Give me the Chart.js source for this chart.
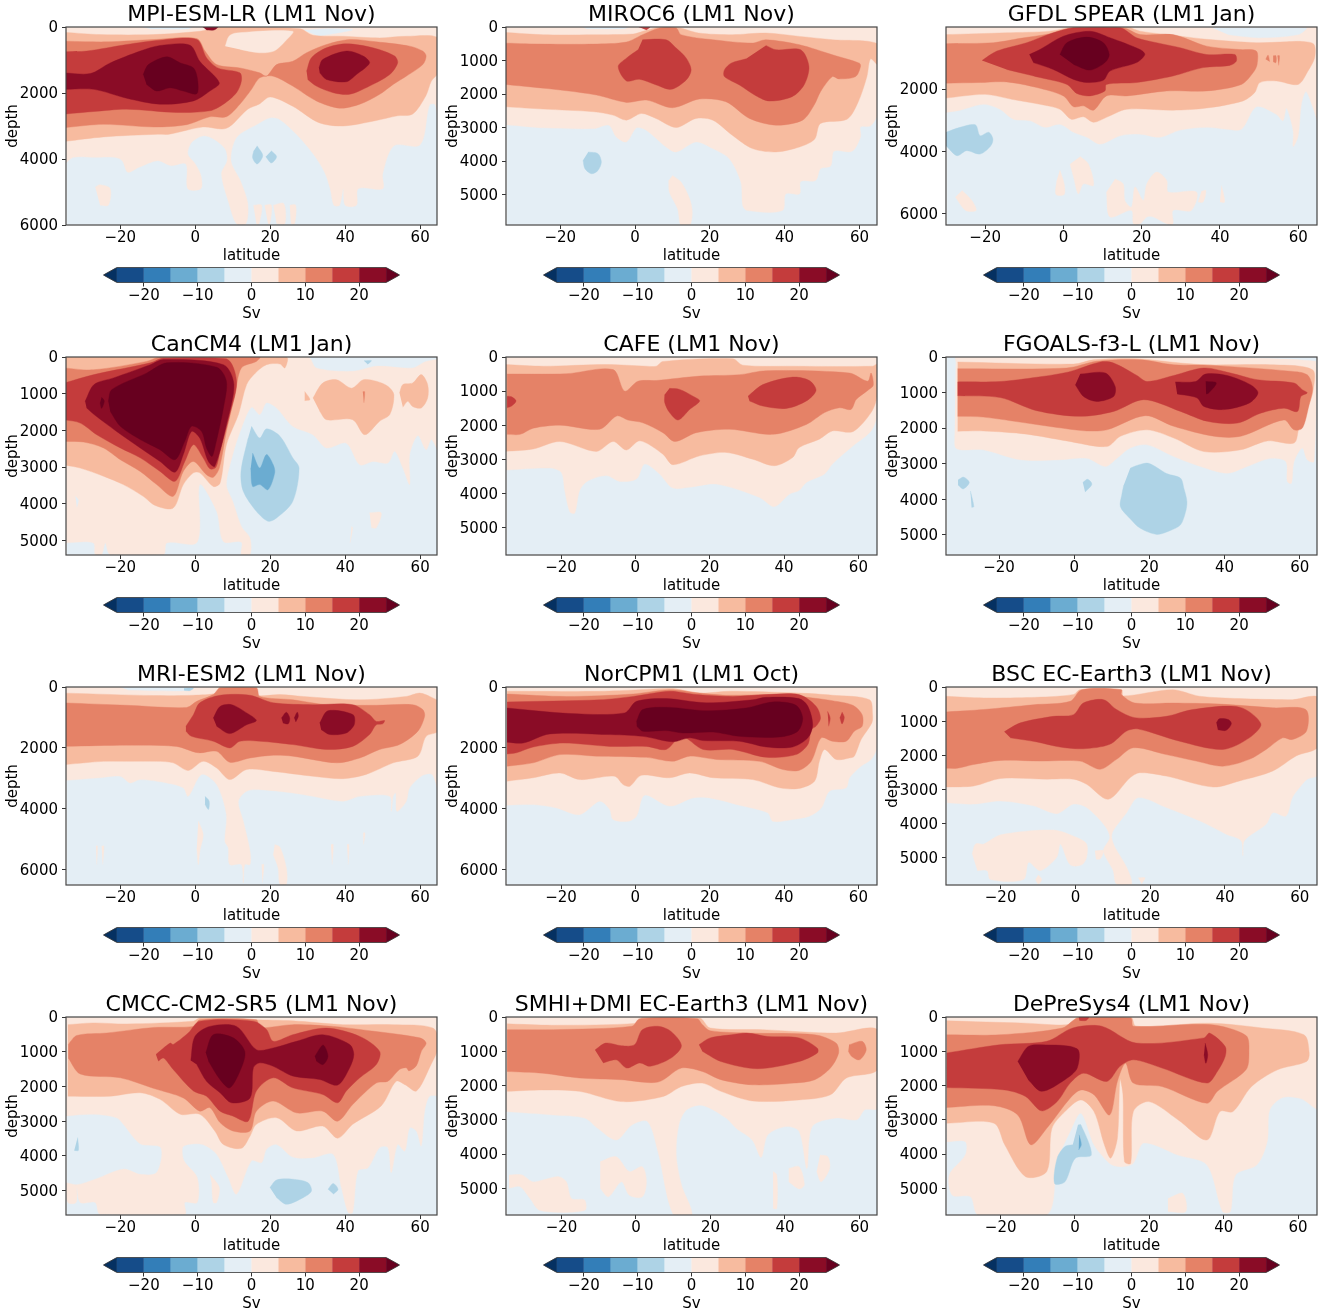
<!DOCTYPE html>
<html>
<head>
<meta charset="utf-8">
<title>Overturning streamfunction by model</title>
<script src="https://cdn.jsdelivr.net/npm/chart.js@4"></script>
<style>
  html, body { margin: 0; background: #fff; }
  #page { position: relative; width: 1325px; height: 1313px; overflow: hidden; }
  canvas { position: absolute; }
</style>
</head>
<body>
<div id="page"></div>
<script>
// contour regions: [lower bound of the Sv band, [lat, depth, lat, depth, ...]]
// painted in list order, later regions lie on top of earlier ones
const mpiBands = [
  [0, [-35,0, 65,0, 65,3000, 64,2350, 62.5,2360, 60,3570, 53,3600, 50,4450, 50,4900, 43.5,4900, 43,5400, 40,5400, 39.5,4900, 38.5,5400, 37,5400, 36,4900, 34.5,4400, 31.5,3850, 27,3250, 22.5,2800, 20,2750, 16.5,2950, 11,3350, 9.5,4050, 12,4650, 14,5350, 13.5,5960, 11,5960, 9,5350, 7,4450, 8.5,4050, 8,3700, 5,3400, 2,3300, -1,3500, -2,3850, 0,4150, 1.5,4500, 1.5,4900, -2,4900, -2.5,4150, -6.5,4200, -10,4050, -15,4250, -18,4400, -19.5,4050, -21.5,3950, -27,3950, -32.5,3950, -35,4170]],
  [0, [-26.7,4850, -25.4,4780, -22.7,4900, -23.2,5400, -25.4,5400]],
  [0, [15.5,5400, 17.7,5400, 17,5960, 16.3,5960]],
  [0, [18.5,5400, 20.3,5400, 19.9,5960, 19.4,5960]],
  [0, [20.8,5400, 23.6,5350, 23.9,5960, 21.7,5960]],
  [0, [25.2,5400, 26.8,5400, 26.5,5960, 25.5,5960]],
  [-5, [29,100, 35,50, 42,80, 37,200, 33,280]],
  [-10, [16.5,3600, 18,3900, 16.5,4150, 15.3,3970, 15.6,3750]],
  [-10, [20.3,3750, 21.7,3930, 20.3,4120, 18.8,3930]],
  [5, [-35,160, -25.4,230, -11.2,230, 1.2,130, 3,80, 6.6,0, 27.9,50, 31.4,250, 39.4,280, 49.2,330, 56.3,280, 65,350, 65,1340, 63,1640, 61.5,2090, 58,2640, 54,2690, 48,2840, 39.5,3000, 33,2900, 26,2400, 20,2120, 17,2340, 14,2490, 8.3,3070, 2,3030, -7,3250, -10,3250, -24.5,3330, -35,3470]],
  [0, [8,580, 9,280, 11,180, 26,130, 24,430, 21,730, 17,780, 12,680]],
  [10, [-35,430, -23.6,450, -11,380, 0.4,350, 2.6,730, 5.7,1140, 11.9,1240, 17.2,1390, 19,1490, 21.7,1140, 26,1040, 29.7,780, 35,530, 41.2,380, 48.3,450, 57.2,580, 60.7,730, 61.6,880, 60.7,1140, 56.3,1490, 52.8,1740, 49.2,2040, 43.9,2340, 38.5,2460, 32.3,2240, 26,1790, 20.8,1490, 17.2,1540, 15,1890, 11.9,2340, 8.3,2720, 3.9,2720, -2.3,2960, -11,3030, -24.5,2950, -35,3050]],
  [15, [-35,750, -29,730, -18.3,530, -9.4,400, 0.4,380, 3,930, 6,1240, 11.9,1390, 12.3,1640, 11,1990, 7.5,2340, 3.9,2540, -5,2590, -18.3,2490, -27,2560, -35,2640]],
  [15, [29.7,1340, 31,930, 35,630, 40.3,510, 47.4,630, 53.2,880, 54,1090, 51.9,1440, 46.5,1790, 41.2,2040, 36.8,1990, 32.3,1790, 30,1590]],
  [20, [-35,1390, -28,1410, -22.7,1090, -14.7,730, -9.4,560, -1.4,550, 1.2,1040, 6.4,1690, 3.9,1940, -0.5,2240, -9.4,2340, -18.3,2160, -27,1890, -35,1890]],
  [20, [33,1240, 34,985, 40.3,730, 44.8,880, 46.5,1090, 43,1440, 40.3,1660, 35,1590, 33.2,1390]],
  [25, [-13.9,1440, -12.5,1140, -7.6,905, -4,1090, -0.5,1240, 0.6,1590, 0.4,2020, -3.2,1940, -6.7,1840, -10.3,1940, -13,1740]],
  [20, [2,0, 6,0, 5,90, 3,90]],
  [-5, [-14,0, -1,0, -2,60, -12,60]]
];

const mirocBands = [
  [0, [-35,0, 65,0, 65,2530, 63,2950, 60.3,2980, 60.3,3280, 58,3710, 53.2,3710, 52.3,4150, 49.6,4230, 48.3,4580, 44.3,4610, 44,4980, 40.3,4980, 39.4,5480, 30,5480, 28.8,5330, 28.3,4630, 25.2,3930, 20.8,3630, 16.3,3430, 11,3730, 8.3,3580, 3,3080, 0.4,3010, -2.3,3430, -5,3280, -7,2930, -11,3030, -24.5,3010, -35,2910]],
  [0, [10,4430, 12.3,4630, 14.6,5130, 15.3,5530, 14.6,5930, 12.3,5930, 11.4,5430, 9.2,4930, 9,4580]],
  [-10, [-12.5,3730, -9.9,3780, -9,4030, -9.9,4280, -11.6,4380, -13.4,4230, -13.9,3980]],
  [5, [-35,160, -24.5,230, -11,230, -0.5,210, 2.1,130, 6.6,0, 11,0, 17,180, 26,230, 35,180, 44,280, 52.8,380, 65,510, 65,1130, 63,950, 62,1480, 59.7,2230, 56.7,2750, 49.6,2880, 48,3350, 44,3580, 37.7,3730, 31.4,3630, 26,3230, 20.8,2780, 16.3,2730, 11,3000, 5.6,2730, 1.7,2580, -2.3,2780, -5.9,2630, -11,2530, -24.5,2450, -35,2380]],
  [10, [-35,480, -24.5,510, -11,510, -2.3,450, 2,230, 6.6,30, 11,30, 12.3,230, 20.8,380, 31.4,480, 35,380, 44,530, 52.8,830, 60,1080, 60.3,1180, 59,1480, 54.5,1550, 52.8,1480, 49.6,1930, 47.9,2330, 44.8,2780, 37.7,2930, 30.6,2730, 24.3,2230, 17.2,2150, 10,2410, 3,2180, -2.3,2250, -10.3,2030, -20,1880, -35,1710]],
  [15, [2,380, 8.3,380, 11,630, 13.7,930, 15,1280, 13.7,1580, 9.7,1860, 5.7,1730, 1.2,1560, -2.3,1610, -4.5,1180, -2.3,930, 0.8,680]],
  [15, [35,550, 37.7,680, 44.3,680, 46.5,1180, 45.2,1730, 42,2080, 35.9,2210, 32.3,2050, 27.9,1730, 23.9,1480, 23.9,1280, 25.7,1080, 29.7,950]],
  [15, [1,0, 4,0, 3,90]],
  [-5, [-14,0, -2,0, -3,50, -13,50]]
];

const gfdlBands = [
  [0, [-30,0, 65,0, 65,3020, 63.8,2610, 62,2080, 60.8,2490, 60,3500, 58.7,3850, 58.7,3340, 57,2610, 56.1,3020, 54.4,2810, 49.3,2570, 45.5,3290, 41.7,3290, 36.6,3230, 29.8,3320, 24.7,3550, 19.6,3450, 14.5,3500, 9.4,3770, 6,3550, 2.6,3390, -0.9,3130, -4.7,3230, -8.5,3020, -12.8,2970, -16.2,2650, -20.4,2490, -26.4,2680, -30,2750]],
  [-5, [38,30, 62,30, 60,250, 50,350, 42,250]],
  [0, [4.3,4170, 6.4,4410, 7.7,5100, 5.1,5050, 3.8,5370, 2.6,4830, 1.7,4410]],
  [0, [-0.9,4600, 0.2,5050, 0.2,5390, -1.9,5390, -1.7,4940]],
  [0, [13.2,4890, 15.3,5050, 15.7,5580, 17.4,5790, 18.3,5150, 20.4,5580, 21.3,5050, 23.8,4670, 26.4,4940, 26.8,5310, 34,5310, 32.7,5900, 28,5900, 28,6330, 26.4,6330, 23,6110, 21.3,6110, 19.6,6330, 17.9,6330, 17.4,5900, 11.9,6110, 11,5310]],
  [0, [-25.9,5260, -23.4,5580, -22.3,5900, -25,5900, -27.6,5470]],
  [0, [35.3,5280, 36.4,5260, 35.7,5630, 34.4,5630]],
  [0, [40.4,5100, 41.2,5630, 40,5630]],
  [-10, [-30,3390, -26.4,3230, -22.5,3150, -21.3,3500, -19.1,3390, -18,3610, -18.7,3850, -21.3,4090, -24.7,3980, -27.2,4140, -30,3820]],
  [5, [-30,250, -14.5,190, -3.4,140, 2.6,0, 16.2,0, 19.6,140, 29.8,300, 36.6,400, 49.3,510, 57,480, 61,470, 64,560, 64.2,990, 62.5,1420, 60,1850, 54.4,1740, 50.2,1790, 48.9,2110, 45.9,2380, 36.6,2610, 28,2680, 16.2,2650, 11,2910, 7.7,3070, 5.1,2890, 2,2970, -0.9,2650, -6,2490, -13.2,2330, -20,2170, -30,2290]],
  [10, [-30,540, -17.9,510, -11,370, -3.4,220, 2.6,30, 15.3,30, 19.6,250, 28,250, 36.6,620, 45,730, 49.3,780, 49.5,1210, 48.5,1470, 45.5,1850, 36.6,2060, 26.4,2060, 16.2,2220, 11,2220, 7.7,2680, 5.1,2540, 2.6,2570, 0,2220, -6.8,1950, -14.5,1770, -21.3,1790, -30,1810]],
  [10, [51.7,1040, 52.3,910, 52.7,1120]],
  [10, [53.6,930, 54.3,930, 54.3,1150, 53.6,1120]],
  [10, [54.7,930, 55.2,930, 55,1240]],
  [15, [-20.8,1080, -17,780, -9.4,510, -2.6,190, 2.6,30, 14.5,30, 18.7,350, 23.8,510, 29.8,670, 36.6,890, 43.8,890, 44.2,1100, 42.5,1240, 35.7,1310, 28,1580, 18.7,1790, 11,1850, 10.6,2060, 6.8,2220, 3.4,2140, 0.9,1850, -6,1630, -14.5,1370]],
  [20, [-8.7,890, -6,730, 0,300, 6.8,140, 11.9,350, 19.6,730, 20.8,890, 18.7,1150, 11.9,1420, 10.2,1720, 6,1790, 2.6,1690, -2.6,1370, -7.7,1150]],
  [25, [-0.9,890, 0.9,510, 6,330, 10.2,510, 11.7,890, 10.6,1150, 6.8,1390, 2.6,1210]]
];

const canBands = [
  [0, [-35,0, 30,0, 32.3,300, 42,390, 48.3,250, 58,300, 61.6,120, 65,120, 65,2570, 63,2250, 61.6,2530, 59.4,2140, 57.2,2660, 57.2,3480, 55.4,3030, 53.2,2570, 51.4,2890, 47.4,2850, 43.9,2940, 40.3,2350, 35,2480, 31.4,2120, 26,1890, 21.7,1390, 19,1250, 17.2,1570, 15,1370, 12.3,1940, 10,2660, 8.3,3480, 10,3940, 12.3,4620, 14.6,4940, 14.6,5390, 12.3,5390, 12.3,5050, 7.5,5030, 5.7,4210, 1.2,3480, 0.5,5050, -7.6,5070, -8.5,5390, -22.7,5390, -24,5070, -25,5390, -26.7,5390, -27.2,5070, -35,5070]],
  [0, [46.5,4250, 49.6,4250, 48.3,4660, 47,4660]],
  [0, [41.7,4620, 42,4660, 41.3,5070]],
  [-5, [-32,3800, -31.2,3900, -31.6,4100]],
  [-10, [45,100, 47,100, 46,200]],
  [5, [-35,0, 24.3,0, 23.9,300, 22.6,190, 19,210, 16,440, 13.7,750, 11.5,1570, 8.3,2390, 6.6,3440, 4.8,3530, 1.2,3160, -0.5,3160, -3.2,3480, -5.9,4120, -10.7,4050, -13.9,3800, -19.2,3480, -24.5,3250, -30.7,3030, -35,2940]],
  [5, [29.2,940, 30.6,1160, 29.2,1190]],
  [5, [31.4,1120, 34,710, 37.7,620, 41.7,850, 44.8,620, 48.3,660, 51.4,800, 53,1030, 51.9,1570, 49.2,1750, 45.2,2120, 42,1710, 35,1710, 33.2,1480]],
  [5, [54.5,980, 55.4,750, 58,710, 60.3,480, 62,750, 62,1120, 60.3,1390, 58,1350, 56.7,1210, 55.4,1370]],
  [10, [44.7,950, 45.2,950, 45,1250]],
  [10, [-35,300, -27.2,350, -13,120, -9.4,0, 17.2,0, 16.3,120, 12.3,300, 10.6,1030, 8.3,2030, 6.4,3030, 4.8,3280, 3,3210, -0.5,2850, -3.2,3120, -5.9,3800, -10.3,3480, -14.7,3120, -20,2800, -24.5,2480, -29.8,2320, -35,2300]],
  [15, [-35,710, -27,480, -12,160, -8.5,30, 8.3,50, 11,660, 9.2,1570, 6.6,2570, 5.5,3010, 3.9,3050, 2.1,2750, -0.5,2390, -2.8,2850, -5.4,3390, -9.4,3120, -14.7,2750, -20,2480, -26.3,2120, -30.7,1800, -35,1710]],
  [20, [-29.4,1210, -27,750, -21.8,570, -12,210, -8.5,70, 7.5,210, 10.3,750, 8.3,1850, 5.2,2980, 3.5,2850, 1.2,2210, -1,2030, -3.2,2660, -5.4,3140, -9.4,2850, -14.7,2480, -21,2030, -27,1570, -29,1390]],
  [25, [-23.2,1210, -22.3,890, -13,440, -7.6,160, 5.7,280, 8.3,660, 7.5,1390, 5.2,2480, 4.4,2710, 3,2480, 1.7,2030, -1,1890, -2.8,2300, -5.4,2800, -9.4,2530, -14.7,2250, -20,1890, -22.7,1480]],
  [25, [-25,1100, -24.3,1200, -25,1400, -25.4,1250]],
  [-10, [15,1890, 17.2,2210, 19,1960, 22.6,2160, 26,2750, 27.7,3030, 26,3940, 21.7,4390, 19.4,4480, 16.3,4210, 12.8,3660, 12.2,3120, 14.1,2210]],
  [-15, [15.3,2620, 17.2,3030, 19,2660, 20.8,2940, 21.2,3160, 19.4,3620, 17.2,3480, 15.3,3530, 14.8,3030]]
];

const cafeBands = [
  [0, [-35,0, 65,0, 65,1680, 63.4,2170, 58.5,2610, 53,3140, 50.9,3430, 46,3680, 44,3920, 41.5,4020, 37.4,4390, 33.4,4120, 21.8,3730, 14.6,3820, 10,3840, 6.5,3430, 2.5,3140, 0.3,3580, -4.2,3650, -7.8,3480, -13,3650, -15,3920, -16.3,4580, -17.6,4550, -19,3920, -19.9,3390, -23,3260, -35,3320]],
  [5, [-35,220, -24.8,270, -7.8,220, 3,270, 5.6,270, 7.4,130, 26.2,50, 28.9,240, 42.3,270, 63.8,270, 65,220, 65,1150, 63.4,1630, 58.5,2190, 53,2170, 49.5,2410, 44,2660, 42.3,2950, 37.4,3190, 31.6,3000, 24.4,2800, 17.3,2900, 10.1,3160, 7.4,2850, 1.2,2460, -2.4,2730, -6,2480, -10.5,2770, -20.3,2480, -27.5,2700, -35,2770]],
  [10, [-34.5,500, -18.5,490, -6,370, -2.9,1000, 0.7,710, 5.6,690, 17.3,560, 28,520, 35.2,400, 57.6,470, 62.5,710, 63.4,470, 64,830, 62.5,980, 59.4,1250, 58,1540, 54.9,1490, 50.9,1630, 46,1980, 37,2270, 25.3,2120, 16.4,2220, 10.6,2480, 7.4,2220, 2,1930, -2,1850, -5,1730, -9.6,2120, -20.3,2000, -27.5,2090, -31,2270, -34.5,2270]],
  [15, [-34.5,1150, -33.3,1170, -32.1,1290, -33.3,1440, -34.5,1490]],
  [15, [9.2,920, 11.9,950, 15.5,1150, 17.3,1290, 14.6,1540, 11.5,1850, 9.2,1630, 7.9,1340, 7.9,1100]],
  [15, [30.3,1150, 34.3,810, 42.3,590, 46.8,690, 48.6,980, 46,1290, 40.6,1510, 34.3,1440, 30.7,1290]]
];

const fgoalsBands = [
  [0, [-31.5,120, -31.5,0, 16.7,0, 64.3,120, 63.8,2940, 62,2890, 60.7,2560, 58.5,2940, 57.8,3550, 56.7,3500, 56.3,2940, 52.3,2850, 46,3080, 40.7,3270, 33.6,3080, 26.5,2800, 19.4,2470, 14.9,2560, 11.4,2850, 8.3,3080, 3.4,2850, -3.7,2890, -14.4,2890, -24.2,2610, -31.3,2580, -31.8,2190]],
  [5, [-31,140, -0.2,200, 5.2,80, 16.7,50, 28.3,170, 35.4,220, 53.2,220, 63.4,360, 63.6,920, 62,1480, 59.8,2000, 58.5,2420, 51.4,2360, 44.3,2610, 34.5,2660, 26.5,2280, 19.4,2050, 12.3,2230, 8.7,2520, -2,2360, -12.6,2170, -24.2,2080, -31,2090]],
  [10, [-31,330, -2,310, 6,120, 17.6,80, 26.5,220, 35.4,230, 57.6,400, 62,500, 63.4,870, 62.5,1340, 60.7,2000, 58.5,2050, 55.8,1770, 44.3,2230, 37.2,2230, 26.5,1950, 18.9,1650, 8.7,2050, 3.4,2080, -2,2020, -12.6,1860, -24.2,1690, -31,1670]],
  [15, [-31,700, -19.7,690, -10,570, -1.5,420, 7,140, 10.5,170, 16.7,520, 19.4,690, 26.5,520, 34.5,310, 41.6,450, 48.7,640, 58.5,730, 60.7,920, 62,1010, 60.3,1110, 59.4,1530, 55.8,1440, 49.6,1580, 43.4,1860, 35.4,1810, 28.3,1530, 18.5,1200, 10.5,1530, 1.6,1670, -10,1510, -19.7,1140, -31,1090]],
  [20, [1.6,480, 8.3,450, 10.9,830, 10.5,1110, 6,1250, 2.5,1110, 0.3,780]],
  [20, [26.9,700, 32.3,690, 34.9,480, 40.7,520, 46.9,780, 48.9,1010, 46.5,1300, 39.8,1480, 34.5,1390, 32.7,1150, 27.4,1040]],
  [25, [35,690, 37.8,730, 35.8,1010, 35.1,1040]],
  [-10, [-30.9,3460, -29.4,3380, -27.9,3530, -29.5,3710, -30.9,3600]],
  [-10, [-27.6,3770, -26.7,4210, -27.3,4230]],
  [-10, [2.3,3530, 3.6,3440, 4.7,3580, 2.9,3800]],
  [-10, [14.9,3130, 16.7,3050, 19.8,2990, 24.6,3280, 28.3,3410, 29.2,3700, 30,4070, 29.6,4370, 28.3,4720, 25.6,4880, 22,4990, 17.6,4820, 14.9,4550, 12.3,4210, 12.7,3860, 13.2,3600]]
];

const mriBands = [
  [0, [-35,0, 65,0, 65,3420, 63.2,2870, 60.7,2900, 57.2,3310, 56.3,3750, 53.8,4080, 53.5,3480, 52.8,3590, 52.3,4080, 51.9,3590, 43.9,3590, 39.4,3750, 31.4,3590, 26,3480, 17.2,3370, 13.7,3420, 11.5,3750, 12.8,4400, 14.6,5390, 14.6,5830, 13.2,5830, 12.8,6430, 12.3,5830, 9.2,5830, 8.8,5280, 7.9,5060, 8.3,4190, 5.7,3200, 1.7,2870, -1.9,3590, -3.2,3310, -7.6,3150, -14.7,3040, -17.4,3150, -20,2930, -25.4,2980, -35,3070]],
  [0, [0.8,4400, 2.1,4840, 1.2,5390, 0.8,5830, 0.4,5280]],
  [0, [21.2,5170, 22.6,5260, 24.3,5940, 24.3,6480, 22.6,6480, 22.1,5940, 20.8,5500]],
  [0, [-26.5,5220, -26.1,5220, -26.3,5830]],
  [0, [-25,5220, -24.4,5220, -24.7,5830]],
  [0, [36.2,5170, 36.8,5170, 36.5,5830]],
  [0, [40.5,5170, 41,5170, 40.8,5830]],
  [0, [44.8,4790, 45.3,4790, 44.9,5170]],
  [0, [17.7,5830, 18.3,5830, 17.9,6430]],
  [-10, [2.6,3590, 3.7,3750, 3.5,4020, 2.6,3860]],
  [-5, [-20,0, -1,0, -2,120, -18,100]],
  [-10, [-3,40, -0.5,40, -1.5,120, -3,110]],
  [5, [-35,200, -11.2,280, -0.5,270, 5.7,200, 6.6,0, 16.3,0, 16.3,270, 22.6,250, 28.8,310, 43.9,420, 56.3,310, 59.9,200, 63.4,360, 65,500, 65,1430, 61.6,1620, 59.4,2270, 52.8,2490, 45.6,2870, 39.4,3010, 31.4,2930, 20.8,2770, 13.7,2710, 9.2,3040, 5.7,2660, 2.1,2440, -1.9,2740, -5.9,2490, -10.3,2440, -18.3,2440, -24.5,2440, -35,2550]],
  [10, [-35,520, -18.3,600, -2.3,670, 0.4,470, 4.8,250, 6.6,30, 16.3,30, 17.2,310, 26,420, 35,580, 48.3,600, 58,580, 60.7,740, 61.2,960, 59.4,1450, 54.5,1890, 49.2,2050, 43.9,2330, 37.7,2490, 26,2270, 20.8,2240, 14.6,2330, 9.2,2470, 5.7,2110, 0.8,2160, -5,1950, -18.3,1910, -35,1950]],
  [15, [-2.5,1290, -0.5,910, 1.2,520, 6.6,270, 14.6,270, 20.8,520, 31.4,580, 42,580, 46.5,910, 48.3,1130, 50.5,1100, 50,1210, 48.3,1240, 46.5,1560, 42,1950, 35,2050, 26,1890, 17.2,1780, 11.9,1780, 9.2,2000, 4.8,1780, -1,1620, -2.5,1450]],
  [20, [4.8,1020, 6.6,640, 9.7,580, 13.7,850, 16.3,1100, 13.7,1240, 9.2,1530, 5.7,1290]],
  [20, [23,1020, 24.3,830, 25.2,1020, 24.8,1210, 23.4,1180]],
  [20, [26.4,1020, 27.2,830, 27.5,960, 26.8,1150]],
  [20, [33.2,1180, 35.4,780, 42.1,910, 42.4,1240, 40.3,1510, 35.9,1560, 33.6,1400]]
];

const norBands = [
  [0, [-35,0, 65,0, 65,1950, 63.4,2380, 60.7,2600, 57.6,2980, 56.7,3310, 52.2,3420, 50,3970, 46.8,4240, 42.3,4350, 37,4410, 35.6,4130, 28,3880, 20,3640, 15.5,3640, 9.2,3910, 2.5,3550, 0.3,4240, -2,4410, -6,4350, -6.9,4020, -9.6,3750, -15,4190, -21.2,3970, -27.5,3860, -35,3880]],
  [5, [-34.5,140, -9.6,140, 1.2,90, 10,50, 17.3,200, 25.3,140, 44,200, 53,270, 63,420, 63.8,910, 63.6,1180, 60.7,1730, 58.9,2270, 57.6,2330, 54,2380, 50.9,2050, 49.5,2440, 48.2,3090, 44,3330, 38.8,3310, 31.6,3040, 20.9,2980, 14.6,2820, 9.2,2980, 1.6,2900, -1.5,3260, -3.3,3200, -5.6,2930, -15,3040, -20.3,2820, -27.5,2980, -34.5,3090]],
  [10, [-34.5,230, -18.5,310, -0.6,230, 9.2,90, 17.3,200, 24.4,270, 39.7,250, 47.7,360, 53,450, 58.5,600, 61,910, 61,1290, 58.9,1450, 56.7,1780, 53,1780, 50,1670, 47.3,2440, 44,2740, 39.7,2710, 33.4,2440, 21.8,2380, 14.6,2270, 10,2440, 3,2310, -10.5,2270, -20.3,2220, -27.5,2490, -34.5,2600]],
  [15, [-34.5,490, -9.6,420, -0.6,310, 9.2,140, 16.4,250, 26.2,310, 35.2,250, 44,250, 48.6,630, 49.8,1020, 48.6,1290, 47.3,1400, 46.4,1890, 43.2,2220, 35.2,2310, 26.2,2050, 18.2,2050, 12.4,1620, 8.3,2050, 3,1950, -6.9,1950, -19.4,1840, -27.5,1970, -32,2160, -34.5,2200]],
  [15, [51.7,800, 52.4,1020, 52,1290]],
  [15, [55.6,820, 56.2,1000, 55.6,1210, 55,1000]],
  [20, [-34.5,690, -17.6,870, -2.9,850, 0.3,470, 8.3,380, 19,520, 31.6,420, 35.2,340, 44,380, 46.4,630, 47.7,1240, 46.4,1670, 42.3,1970, 35.2,1970, 28,1780, 18.2,1760, 14.6,1670, 10,1800, 2,1620, -7.8,1560, -23,1540, -30.2,1840, -34.5,1810]],
  [25, [0.3,1130, 2,740, 9.2,670, 19,780, 29.8,690, 37,490, 43.2,600, 45,1020, 43.7,1450, 38.8,1640, 28,1620, 20.9,1480, 12.8,1510, 8.3,1430, 2,1450, 0.4,1290]]
];

const bscBands = [
  [0, [-35,0, 65,0, 65,2560, 62,2700, 59.9,2950, 58,3240, 56.3,3780, 52.8,3680, 51,4020, 45.2,4500, 44.8,4940, 44.3,4500, 40.3,4310, 33.2,3920, 24.3,3530, 16.8,3240, 13.7,3680, 10.1,4210, 9.7,4410, 10.6,4700, 13.7,5280, 15,5770, 11,5770, 10.1,5380, 7.5,4800, 9.2,4410, 7.9,4070, 3,3530, -0.5,3430, -5,3710, -11.2,3480, -20,3340, -27.2,3430, -34.3,3390]],
  [0, [-27.6,4890, -26.7,4600, -24.5,4600, -20,4330, -5.9,4190, 0.4,4410, 3,4600, 3,4990, 1.7,5210, -1.4,5210, -4,4600, -5,4990, -9.4,5380, -12.5,5140, -13.9,5640, -22.7,5640, -23.6,5380, -26.2,5380]],
  [0, [5.2,4800, 7.5,4800, 6.6,5040, 5.5,5040]],
  [0, [-9.9,5500, -9,5640, -9.9,5770, -10.7,5640]],
  [0, [16.8,5590, 18.6,5590, 17.7,5770]],
  [5, [-35,270, -24.5,320, -10.3,300, -0.5,220, 1.2,80, 12.3,80, 12.8,260, 26,80, 33.2,270, 43.9,340, 58,370, 65,320, 65,1730, 59,2020, 52.8,2460, 43.9,2750, 36.8,2930, 24.3,2610, 17.2,2510, 14.6,2660, 8.8,3290, 3,2850, -0.5,2700, -7.6,2700, -20,2680, -27.2,2900, -35,2930]],
  [10, [-34.5,730, -24.5,660, -11.2,520, -1.4,420, 1.7,80, 12.3,80, 12.3,220, 15.9,470, 26,470, 38.5,500, 52.8,610, 61.6,660, 61.8,1290, 58,1540, 55.4,1490, 51,1830, 46.5,2120, 39.4,2320, 32.3,2170, 24.3,1980, 15.5,1780, 11,2120, 6.6,2410, 1.2,2170, -9.4,2170, -20,2150, -27.2,2270, -31.6,2380, -34.5,2380]],
  [15, [-19,1310, -14.7,1050, -5.9,860, -0.5,810, 2.1,470, 7.5,370, 11,660, 15.9,900, 24.3,860, 31.4,660, 43.9,590, 49.6,1080, 46.5,1490, 39.4,1830, 27.9,1590, 16.8,1230, 13.7,1290, 9.2,1680, 2.1,1810, -4.1,1760, -10.3,1610, -17.4,1490]],
  [20, [37.7,1050, 38.5,930, 41,960, 41.7,1080, 40.3,1270, 38.1,1250]]
];

const cmccBands = [
  [0, [-35,0, 65,0, 65,2230, 62.5,2280, 61.2,2710, 60.3,3710, 59,3280, 57.2,3190, 55.9,3860, 54,3670, 52.3,4480, 51.4,3760, 49.2,3760, 46.1,4340, 43.4,4430, 42,5630, 40.8,5630, 39,4910, 36.8,3950, 31.4,4050, 26,4030, 21.7,3670, 19,3810, 17.7,4190, 15,4140, 11,5100, 8.8,4620, 5.7,3950, 2,3670, -1.9,3670, -3.4,3760, -3,4140, 0.5,4620, 0.5,5340, -2.8,5340, -2.8,5680, -25.4,5680, -26.7,5340, -30.7,5340, -31.6,4910, -31.8,5340, -34,5340, -35,4790, -31.6,4830, -26.7,4670, -19.2,4380, -14.7,4530, -10.3,4480, -9.2,3760, -14.7,3650, -19.2,3090, -21,2900, -27.2,2800, -35,2850]],
  [0, [3.9,4530, 6.4,4910, 5.7,5340, 4.8,5340, 4.4,4810]],
  [-10, [-31.4,3470, -31.2,3840, -32.3,3840]],
  [-10, [19.9,4910, 21.7,4690, 26.1,4670, 30.1,4770, 31,5010, 28.8,5200, 24.3,5390, 21.7,5200]],
  [-10, [35.4,4960, 36.8,4790, 38.1,4960, 36.9,5100]],
  [5, [-34,220, -27.2,170, -18.3,200, -0.5,120, 1.2,30, 15.5,80, 26,110, 39.4,220, 52.8,220, 63.4,320, 65,790, 62.5,1460, 59,2130, 56,1950, 53.6,1850, 49.6,2560, 42,3090, 38,3490, 34,3140, 27,3280, 21.7,2900, 16.3,3090, 14.6,3430, 12.3,3780, 7.5,3670, 5.2,3280, 1.2,2800, -4,2800, -9.4,2370, -14.7,2180, -22.7,2280, -34,2280]],
  [10, [-33.9,790, -31.6,530, -23.6,460, -11,300, -0.5,270, 1.2,80, 16.3,80, 17.2,300, 26,220, 36.8,270, 43.9,360, 59.9,600, 61.6,750, 60.3,990, 59,1400, 57,1550, 56.3,1460, 54.5,1510, 51.4,1850, 48.3,1900, 42,2520, 38,3000, 34,2710, 27,2760, 20.8,2420, 16.3,2710, 14.6,3280, 10,3280, 6.6,3040, 3.9,2610, 1.2,2710, -3.2,2330, -11,2060, -20,1750, -30.7,1640, -33.9,1180]],
  [15, [-10.5,1080, -6.7,750, -5.9,790, -1.9,460, 1.2,120, 15.5,120, 19,360, 20.8,700, 26,510, 35,320, 43.9,560, 49.2,990, 48.3,1370, 43.9,1750, 40.3,2130, 38,2470, 34,2230, 26,2040, 20.8,1750, 16.3,2130, 14.1,3000, 10,2850, 6.6,2710, 3,2280, -0.5,2130, -5.9,1510, -8.5,1180, -9.9,1270]],
  [20, [-1.2,1250, -0.1,560, 3.9,270, 11,270, 16.3,940, 20.8,890, 27,700, 34,510, 41.2,790, 42.3,1080, 41.2,1460, 38,1960, 33.2,1800, 26,1700, 20.8,1420, 17.2,1320, 15.5,1460, 14.6,2330, 9.7,2470, 6.6,2180, 3,1850, 0.4,1370]],
  [25, [2.8,1030, 4.8,510, 10.1,600, 13.2,990, 12.3,1460, 9.2,2040, 6.6,1800, 3.5,1270]],
  [25, [31.9,1130, 34.1,810, 35.4,1130, 34.1,1370, 32.3,1270]]
];

const smhiBands = [
  [0, [-35,0, 64.8,0, 64.8,2660, 61.4,2710, 59.3,3000, 53.7,2950, 47.3,3200, 45.9,4420, 43.8,3340, 40.3,3200, 35.4,3440, 33.6,4100, 31.2,3590, 26.9,3250, 24.2,2950, 17.8,2580, 13.6,2710, 11.5,3150, 10.8,4030, 12.2,4900, 15,5780, 10.1,5780, 5.9,3930, 3.1,3050, -1.1,3150, -5.3,3590, -10.3,3250, -13.8,2950, -22.2,2860, -35,2760]],
  [0, [-34.1,4610, -30.6,4610, -27.8,4810, -25,4760, -20.8,4660, -18.7,4810, -17.3,5300, -13.8,5340, -13.8,5650, -25.7,5650, -28.5,5290, -31.2,4950, -34.1,5000]],
  [0, [-9.6,4220, -5.3,4080, -1.8,4510, 1.7,4370, 2.8,4810, 1.7,5250, -1.8,5200, -3.9,4810, -7.4,5250, -9.6,5000]],
  [0, [41,4420, 43.8,4370, 45.2,4900, 43.8,5020, 41,4810]],
  [0, [49.4,4030, 51.5,4080, 52,4420, 49.7,4810, 48.5,4510]],
  [0, [36.8,4510, 37.8,4610, 37.8,5590, 36.8,5590]],
  [5, [-34.6,200, -22.2,240, 0.3,180, 1.7,10, 17.1,30, 19.9,320, 34,370, 53.7,470, 64.8,370, 64.8,1540, 56.5,1780, 52.2,2270, 43.8,2420, 31.2,2450, 22.8,2170, 17.8,1930, 12.2,2030, 7.3,2320, -3.9,2470, -15.2,2170, -25,2130, -34.6,2170]],
  [10, [-34.6,370, -22.2,370, -1.1,270, 1,50, 16.4,50, 17.8,220, 19.9,400, 31.2,470, 48,520, 53.7,760, 54.4,1050, 52.2,1490, 48,1830, 42.4,1930, 31.2,1980, 22.8,1830, 17.8,1590, 12.2,1490, 5.9,1900, -3.9,1830, -15.2,1780, -25,1640, -34.6,1590]],
  [10, [57.2,810, 60.7,710, 61.8,960, 60,1250, 57.9,1150, 57,1000]],
  [15, [-11,960, -8.1,760, -3.9,840, -0.4,810, 1.7,370, 5.9,270, 9.4,420, 12.2,840, 9.4,1200, 3.8,1440, 1,1340, -2.5,1490, -5.3,1250, -8.8,1340]],
  [15, [16.9,810, 19.9,610, 25.6,520, 29.8,470, 35.4,570, 43.8,610, 48.7,910, 48.7,1050, 43.8,1300, 32.6,1510, 22.8,1300, 17.8,1000]]
];

const depreBands = [
  [0, [-34.5,0, 65.4,0, 65.4,2660, 60.9,2390, 55.9,2350, 52.4,2710, 51.7,3640, 48.9,4320, 43.2,4610, 41.8,5680, 39.7,5680, 35.5,4320, 27.7,4030, 18.5,3680, 15.7,4270, 12.9,4370, 10,4320, 7.9,4120, 5.1,3730, 1.6,2810, -1.3,3340, -4.8,4220, -7.6,5780, -26,5780, -28.1,5250, -33,5200, -33.8,4610, -29.5,4030, -29.5,3640, -34.5,3640]],
  [0, [25,5300, 29,5150, 29.8,5680, 25,5680]],
  [5, [-34.5,110, -13.3,180, -1.3,220, 0.8,0, 15,0, 16.4,270, 36.2,180, 50.3,320, 61.6,520, 63,1050, 62.3,1300, 54.5,1540, 47.5,2030, 42.5,2760, 39,2760, 35.5,3590, 27.7,3000, 19.9,2470, 15.7,2760, 15,4270, 13.3,4220, 12.9,2270, 12.1,1830, 11.4,3540, 9.6,4120, 7.9,3730, 5.1,2760, 1.6,2420, -2.7,2760, -6.2,3250, -7.6,4510, -13.3,4660, -18.9,3730, -21.8,3100, -34.5,3100]],
  [10, [-34.5,520, -20.3,520, -3.4,320, 0.8,30, 15,30, 15.7,270, 36.2,220, 46,540, 46.8,1050, 46,1540, 38.3,2170, 35.5,2520, 23.4,2030, 15.7,1930, 13.6,1350, 11.4,1880, 9.3,2860, 5.1,2270, 1.6,2130, -1.3,2370, -7.6,3250, -11.9,3730, -15.4,2860, -21.8,2590, -34.5,2640]],
  [15, [-34.5,1050, -20.3,810, -7.6,710, -0.6,320, 7.2,270, 16.4,760, 34.7,610, 36.2,470, 40.4,860, 40.4,1150, 38.3,1590, 35.5,1930, 23.4,1490, 15.7,1250, 12.1,1440, 8.6,1880, 2.3,1640, -1.3,1930, -4.8,2470, -9,2740, -13.3,2320, -18.9,2130, -34.5,2060]],
  [20, [-15.4,1300, -12.6,860, -9,810, 0.6,930, 0.6,1490, -2.7,1830, -9,2170, -12.6,1830]],
  [20, [35,760, 35.7,1100, 35.2,1350, 34.7,1100]],
  [15, [1,0, 3.7,0, 3,100, 1.2,100]],
  [-10, [0.8,3150, 1.6,3150, 4.4,4030, 0.1,4120, -2.7,4810, -5.5,4860, -4.8,4120, -2.7,3780, -0.6,3730]],
  [-15, [1.1,3440, 1.7,3730, 1,3880]]
];

const panelBands = [mpiBands, mirocBands, gfdlBands, canBands, cafeBands, fgoalsBands, mriBands, norBands, bscBands, cmccBands, smhiBands, depreBands];
const panelTitles = ['MPI-ESM-LR (LM1 Nov)', 'MIROC6 (LM1 Nov)', 'GFDL SPEAR (LM1 Jan)', 'CanCM4 (LM1 Jan)', 'CAFE (LM1 Nov)', 'FGOALS-f3-L (LM1 Nov)', 'MRI-ESM2 (LM1 Nov)', 'NorCPM1 (LM1 Oct)', 'BSC EC-Earth3 (LM1 Nov)', 'CMCC-CM2-SR5 (LM1 Nov)', 'SMHI+DMI EC-Earth3 (LM1 Nov)', 'DePreSys4 (LM1 Nov)'];
const latMins = [-34.5, -34.5, -30, -34.5, -34.8, -34.1, -34.5, -34.8, -34.6, -34.5, -34.9, -34.7];
const latMaxs = [64.5, 64.7, 64.8, 64.5, 65, 64.6, 64.5, 65, 64.6, 64.5, 64.7, 65.1];
const depthMins = [0, 0, 5, 0, 0, 0, 0, 0, 0, 0, 0, 0];
const depthMaxs = [6000, 5910, 6370, 5400, 5810, 5570, 6500, 6500, 5800, 5700, 5780, 5780];
const latTicks = [-20, 0, 20, 40, 60];
const depthTicks = [
  [0, 2000, 4000, 6000], [0, 1000, 2000, 3000, 4000, 5000], [2000, 4000, 6000],
  [0, 1000, 2000, 3000, 4000, 5000], [0, 1000, 2000, 3000, 4000, 5000], [0, 1000, 2000, 3000, 4000, 5000],
  [0, 2000, 4000, 6000], [0, 2000, 4000, 6000], [0, 1000, 2000, 3000, 4000, 5000],
  [0, 1000, 2000, 3000, 4000, 5000], [0, 1000, 2000, 3000, 4000, 5000], [0, 1000, 2000, 3000, 4000, 5000]
];

const cbarLevels = [-25, -20, -15, -10, -5, 0, 5, 10, 15, 20, 25];
const cbarColors = ['#154c89', '#337eb8', '#6bacd1', '#aed3e6', '#e4eef5', '#fbe8de', '#f7bb9f', '#e58267', '#c43c3c', '#8a0c26'];
const cbarUnder = '#053061';
const cbarOver = '#67001f';
const cbarEnds = [-27.5, 27.5];
const cbarTicks = [-20, -10, 0, 10, 20];

Chart.defaults.font.family = '"DejaVu Sans", sans-serif';
Chart.defaults.font.size = 15;
Chart.defaults.color = '#111';

function bandColor(level) {
  if (level >= 25) return cbarOver;
  return cbarColors[cbarLevels.indexOf(level)];
}

function toPoints(flat) {
  const pts = [];
  for (let i = 0; i < flat.length; i += 2) pts.push({ x: flat[i], y: flat[i + 1] });
  return pts;
}

function regionDataset(flat, color, i, tension) {
  return {
    data: toPoints(flat),
    fill: 'shape',
    backgroundColor: color,
    borderColor: color,
    borderWidth: 0.4,
    pointRadius: 0,
    tension: tension,
    order: -i
  };
}

function minusLabel(v) {
  return String(v).replace('-', '\u2212');
}

const frame = {
  id: 'frame',
  afterDraw(chart) {
    const { ctx, chartArea: a } = chart;
    ctx.save();
    ctx.strokeStyle = '#444';
    ctx.lineWidth = 1.2;
    ctx.strokeRect(a.left, a.top, a.right - a.left, a.bottom - a.top);
    ctx.restore();
  }
};

function addCanvas(left, top, w, h) {
  const c = document.createElement('canvas');
  c.width = w;
  c.height = h;
  c.style.left = left + 'px';
  c.style.top = top + 'px';
  c.style.width = w + 'px';
  c.style.height = h + 'px';
  document.getElementById('page').appendChild(c);
  return c;
}

function drawPanel(n) {
  const col = n % 3, row = Math.floor(n / 3);
  const left = col * 440, top = row * 330;
  const x0 = latMins[n], x1 = latMaxs[n], y0 = depthMins[n], y1 = depthMaxs[n];
  // the lowest band fills the axes, stopping just short of the frame as the original contours do
  const base = [x0 + 0.3, y0, x1, y0, x1, y1 * 0.996, x0 + 0.3, y1 * 0.996];
  const datasets = [regionDataset(base, bandColor(-5), 0, 0)];
  panelBands[n].forEach((b, i) => datasets.push(regionDataset(b[1], bandColor(b[0]), i + 1, 0.3)));

  new Chart(addCanvas(left, top, 440, 265), {
    type: 'line',
    data: { datasets },
    options: {
      responsive: false,
      animation: false,
      devicePixelRatio: 1,
      layout: { padding: { right: 3 } },
      plugins: {
        legend: { display: false },
        tooltip: { enabled: false },
        title: {
          display: true,
          text: panelTitles[n],
          fullSize: false,
          color: '#000',
          font: { size: 22, weight: 'normal' },
          padding: { top: 2.5, bottom: -1.9 }
        }
      },
      scales: {
        x: {
          type: 'linear',
          min: x0,
          max: x1,
          afterBuildTicks: s => { s.ticks = latTicks.map(v => ({ value: v })); },
          afterFit: s => { s.height = 40; },
          grid: { drawOnChartArea: false, tickLength: 4, tickColor: '#333' },
          border: { display: false },
          ticks: { color: '#000', maxRotation: 0, autoSkip: false, padding: 0.5, callback: minusLabel },
          title: { display: true, text: 'latitude', color: '#000', padding: 0 }
        },
        y: {
          type: 'linear',
          reverse: true,
          min: y0,
          max: y1,
          afterBuildTicks: s => { s.ticks = depthTicks[n].map(v => ({ value: v })); },
          afterFit: s => { s.width = 66; },
          grid: { drawOnChartArea: false, tickLength: 4, tickColor: '#333' },
          border: { display: false },
          ticks: { color: '#000', autoSkip: false, padding: 4, labelOffset: 1.5, callback: minusLabel },
          title: { display: true, text: 'depth', color: '#000', padding: { top: 4, bottom: 0 } }
        }
      }
    },
    plugins: [frame]
  });
}

function drawColorbar(n) {
  const col = n % 3, row = Math.floor(n / 3);
  const datasets = [];
  cbarColors.forEach((c, i) => {
    const a = cbarLevels[i], b = cbarLevels[i + 1];
    datasets.push(regionDataset([a, 0, b, 0, b, 1, a, 1], c, i, 0));
  });
  const lo = cbarLevels[0], hi = cbarLevels[cbarLevels.length - 1];
  datasets.push(regionDataset([lo, 0, cbarEnds[0], 0.5, lo, 1], cbarUnder, 10, 0));
  datasets.push(regionDataset([hi, 0, cbarEnds[1], 0.5, hi, 1], cbarOver, 11, 0));
  datasets.push({
    data: toPoints([lo, 0, hi, 0, cbarEnds[1], 0.5, hi, 1, lo, 1, cbarEnds[0], 0.5, lo, 0]),
    borderColor: '#333',
    borderWidth: 0.8,
    pointRadius: 0,
    fill: false,
    clip: 2,
    order: -12
  });

  new Chart(addCanvas(col * 440 + 90, row * 330 + 262, 320, 61), {
    type: 'line',
    data: { datasets },
    options: {
      responsive: false,
      animation: false,
      devicePixelRatio: 1,
      layout: { padding: { left: 13.5, right: 10.5, top: 5.5 } },
      plugins: { legend: { display: false }, tooltip: { enabled: false } },
      scales: {
        x: {
          type: 'linear',
          min: cbarEnds[0],
          max: cbarEnds[1],
          afterBuildTicks: s => { s.ticks = cbarTicks.map(v => ({ value: v })); },
          afterFit: s => { s.height = 40.5; },
          grid: { drawOnChartArea: false, tickLength: 4, tickColor: '#333' },
          border: { display: false },
          ticks: { color: '#000', maxRotation: 0, autoSkip: false, padding: 0.5, callback: minusLabel },
          title: { display: true, text: 'Sv', color: '#000', padding: 0 }
        },
        y: { display: false, min: 0, max: 1 }
      }
    }
  });
}

panelTitles.forEach((t, n) => {
  drawPanel(n);
  drawColorbar(n);
});
</script>
</body>
</html>
